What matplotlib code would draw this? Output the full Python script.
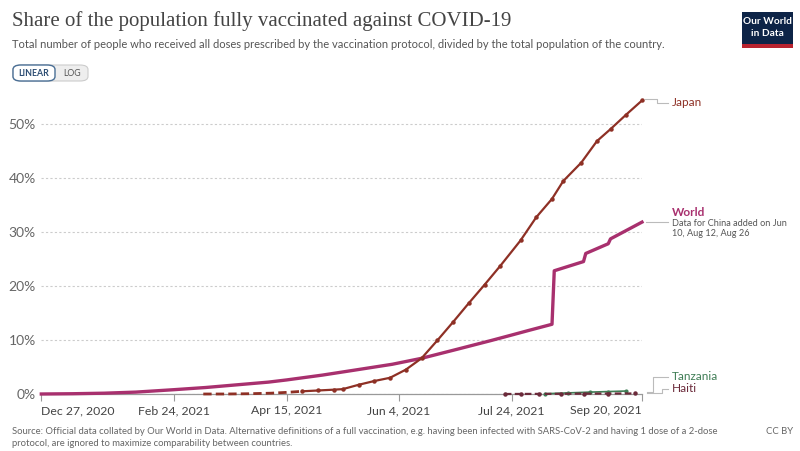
import numpy as np
import pandas as pd
import matplotlib
matplotlib.use('Agg')
import matplotlib.pyplot as plt
import matplotlib.dates as mdates
from matplotlib.patches import FancyBboxPatch, Rectangle
from matplotlib.lines import Line2D

W, H = 800, 451

# values (share fully vaccinated, %)
world_dates = ['2020-12-27', '2021-01-10', '2021-01-24', '2021-02-07', '2021-02-24', '2021-03-10',
               '2021-03-24', '2021-04-07', '2021-04-15', '2021-05-01', '2021-05-15', '2021-06-01',
               '2021-06-14', '2021-07-01', '2021-07-15', '2021-07-24', '2021-08-01', '2021-08-11',
               '2021-08-12', '2021-08-25', '2021-08-26', '2021-09-05', '2021-09-06', '2021-09-20']
world_vals = [0.0, 0.05, 0.15, 0.35, 0.8, 1.2, 1.7, 2.2, 2.6, 3.5, 4.4, 5.5,
              6.6, 8.4, 9.9, 10.9, 11.8, 12.9, 22.8, 24.5, 26.0, 27.8, 28.7, 31.8]

japan_dates_sparse = ['2021-03-09', '2021-03-19', '2021-03-29', '2021-04-08', '2021-04-15', '2021-04-22']
japan_vals_sparse = [0.0, 0.0, 0.05, 0.15, 0.3, 0.5]
japan_dates = ['2021-04-22', '2021-04-29', '2021-05-06', '2021-05-10', '2021-05-17', '2021-05-24',
               '2021-05-31', '2021-06-07', '2021-06-14', '2021-06-21', '2021-06-28', '2021-07-05',
               '2021-07-12', '2021-07-19', '2021-07-28', '2021-08-04', '2021-08-11', '2021-08-16',
               '2021-08-24', '2021-08-31', '2021-09-06', '2021-09-13', '2021-09-20']
japan_vals = [0.5, 0.65, 0.8, 0.9, 1.7, 2.4, 3.0, 4.5, 6.6, 9.9, 13.3, 16.8,
              20.2, 23.7, 28.4, 32.7, 36.1, 39.4, 42.8, 46.8, 49.0, 51.7, 54.3]

haiti_dates = ['2021-07-21', '2021-07-28', '2021-08-05', '2021-08-15', '2021-08-25', '2021-09-05', '2021-09-17']
haiti_vals = [0.0, 0.01, 0.02, 0.04, 0.06, 0.08, 0.1]

tanzania_dates = ['2021-08-08', '2021-08-18', '2021-08-28', '2021-09-05', '2021-09-13']
tanzania_vals = [0.05, 0.2, 0.35, 0.45, 0.55]

tick_dates = ['2020-12-27', '2021-02-24', '2021-04-15', '2021-06-04', '2021-07-24', '2021-09-20']
tick_labels = ['Dec 27, 2020', 'Feb 24, 2021', 'Apr 15, 2021', 'Jun 4, 2021', 'Jul 24, 2021', 'Sep 20, 2021']
y_ticks = [0, 10, 20, 30, 40, 50]

c_world = '#a8306e'
c_japan = '#8e3025'
c_haiti = '#6b2a3a'
c_tanz = '#3f7d55'
grey = '#666666'

plt.rcParams['font.family'] = ['Lato', 'DejaVu Sans']

def fx(x):
    return x / W

def fy(y):
    return 1 - y / H

fig = plt.figure(figsize=(8, 4.51), dpi=100)
x0, x1, y0, y1 = 41.3, 642, 394, 94
ax = fig.add_axes([fx(x0), fy(y0), (x1 - x0) / W, (y0 - y1) / H])

d = lambda s: mdates.date2num(pd.to_datetime(s))

ax.plot(pd.to_datetime(world_dates), world_vals, color=c_world, lw=2.4, solid_joinstyle='round', clip_on=False, zorder=4)
ax.plot(pd.to_datetime(japan_dates_sparse), japan_vals_sparse, color=c_japan, lw=2, ls=(0, (3, 1.5)),
        clip_on=False, zorder=5)
ax.plot(pd.to_datetime(japan_dates), japan_vals, color=c_japan, lw=1.6, marker='o', ms=2.2, clip_on=False, zorder=5)
ax.plot(pd.to_datetime(haiti_dates), haiti_vals, color=c_haiti, lw=1.6, ls=(0, (3, 1.5)), marker='o', ms=2.2,
        clip_on=False, zorder=5)
ax.plot(pd.to_datetime(tanzania_dates), tanzania_vals, color=c_tanz, lw=1.2, marker='o', ms=2, clip_on=False, zorder=4)

ax.set_xlim(d('2020-12-27'), d('2021-09-20'))
ax.set_ylim(0, 55.5)

for s in ['top', 'right', 'left']:
    ax.spines[s].set_visible(False)
ax.spines['bottom'].set_color('#999999')
ax.spines['bottom'].set_linewidth(0.9)

ax.set_yticks(y_ticks)
ax.set_yticklabels([f'{v}%' for v in y_ticks])
ax.tick_params(axis='y', length=0, pad=4, labelsize=10, labelcolor=grey)
ax.yaxis.grid(True, ls=(0, (2, 2)), color='#cccccc', lw=0.8)
ax.set_axisbelow(True)

ax.set_xticks([d(t) for t in tick_dates])
ax.set_xticklabels(tick_labels)
ax.tick_params(axis='x', length=5, color='#999999', pad=3, labelsize=8.8, labelcolor='#444444')
xl = ax.get_xticklabels()
xl[0].set_ha('left')
xl[-1].set_ha('right')

# line labels with connectors
def conn(pts):
    xs = [fx(p[0]) for p in pts]
    ys = [fy(p[1]) for p in pts]
    fig.add_artist(Line2D(xs, ys, color='#bbbbbb', lw=0.8))

conn([(645, 99), (657, 99), (657, 103), (668, 103)])
fig.text(fx(672), fy(103), 'Japan', color=c_japan, fontsize=8.5, va='center')

conn([(646, 222), (668, 222)])
fig.text(fx(672), fy(212), 'World', color=c_world, fontsize=8.5, fontweight='bold', va='center')
fig.text(fx(672), fy(224), 'Data for China added on Jun', color='#555555', fontsize=6.6, va='center')
fig.text(fx(672), fy(234), '10, Aug 12, Aug 26', color='#555555', fontsize=6.6, va='center')

conn([(647, 392), (653, 392), (653, 377), (668, 377)])
fig.text(fx(672), fy(377), 'Tanzania', color=c_tanz, fontsize=8.5, va='center')
conn([(647, 393), (662, 393), (662, 389), (668, 389)])
fig.text(fx(672), fy(389), 'Haiti', color=c_haiti, fontsize=8.5, va='center')

# header
fig.text(fx(12), fy(21), 'Share of the population fully vaccinated against COVID-19',
         family=['Liberation Serif', 'DejaVu Serif'], fontsize=15, color='#444444', va='center')
fig.text(fx(12), fy(44), 'Total number of people who received all doses prescribed by the vaccination protocol, '
         'divided by the total population of the country.', fontsize=8.05, color='#555555', va='center')

# linear / log toggle
fig.patches.append(FancyBboxPatch((fx(13), fy(81)), fx(75), 16 / H, boxstyle='round,pad=0,rounding_size=0.01',
                                  transform=fig.transFigure, fc='#eeeeee', ec='#cccccc', lw=0.8))
fig.patches.append(FancyBboxPatch((fx(13), fy(81)), fx(42), 16 / H, boxstyle='round,pad=0,rounding_size=0.01',
                                  transform=fig.transFigure, fc='white', ec='#4a6f95', lw=1))
fig.text(fx(34), fy(73), 'LINEAR', fontsize=6.3, fontweight='bold', color='#2c4d73', ha='center', va='center')
fig.text(fx(72), fy(73), 'LOG', fontsize=6.3, color='#555555', ha='center', va='center')

# logo
fig.patches.append(Rectangle((fx(742), fy(48)), fx(51), 36 / H, transform=fig.transFigure, fc='#0d2447', ec='none'))
fig.patches.append(Rectangle((fx(742), fy(48)), fx(51), 4 / H, transform=fig.transFigure, fc='#b8232f', ec='none'))
fig.text(fx(767.5), fy(21), 'Our World', fontsize=7.3, color='white', ha='center', va='center', fontweight='bold')
fig.text(fx(767.5), fy(34), 'in Data', fontsize=7.3, color='white', ha='center', va='center', fontweight='bold')

# footer
fig.text(fx(12), fy(432), 'Source: Official data collated by Our World in Data. Alternative definitions of a full '
         'vaccination, e.g. having been infected with SARS-CoV-2 and having 1 dose of a 2-dose',
         fontsize=6.8, color='#666666', va='center')
fig.text(fx(12), fy(444), 'protocol, are ignored to maximize comparability between countries.',
         fontsize=6.8, color='#666666', va='center')
fig.text(fx(793), fy(432), 'CC BY', fontsize=6.8, color='#666666', ha='right', va='center')

fig.savefig('out.png', dpi=100)
